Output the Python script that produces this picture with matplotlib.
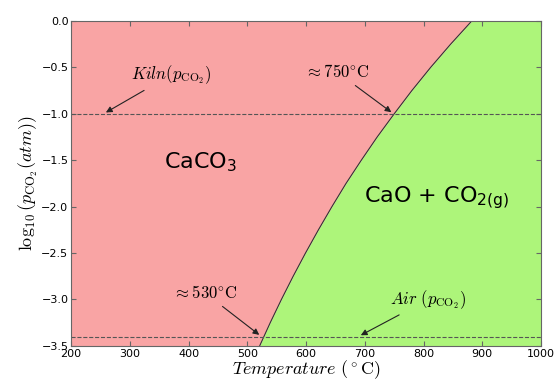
import matplotlib
matplotlib.use('Agg')
import matplotlib.pyplot as plt

plt.rcParams['mathtext.fontset'] = 'cm'

# boundary CaCO3 <-> CaO + CO2
log_p = [-3.5, -3.25, -3.0, -2.75, -2.5, -2.25, -2.0, -1.75, -1.5,
         -1.25, -1.0, -0.75, -0.5, -0.25, 0.0]
temp = [521, 539, 558, 578, 599, 621, 644, 668, 694,
        721, 750, 780, 812, 846, 882]

kiln = -1.0
air = -3.4

xmin, xmax = 200, 1000
ymin, ymax = -3.5, 0.0

fig = plt.figure(figsize=(5.56, 3.83), dpi=100)
ax = fig.add_axes([0.128, 0.097, 0.845, 0.848])

# red region left of the curve, green to the right
ax.fill_betweenx(log_p, xmin, temp, color='#f9a4a4', lw=0)
ax.fill_betweenx(log_p, temp, xmax, color='#adf57a', lw=0)
ax.plot(temp, log_p, color='#333333', lw=0.8)

ax.axhline(kiln, color='#555555', ls='--', lw=0.8)
ax.axhline(air, color='#555555', ls='--', lw=0.8)

arrow = dict(arrowstyle='-|>', color='#222222', lw=0.8, mutation_scale=9)
ax.annotate(r'$Kiln(p_{\mathrm{CO_2}})$', xy=(255, kiln), xytext=(370, -0.58),
            ha='center', va='center', fontsize=12, arrowprops=arrow)
ax.annotate(r'$\approx 750^{\circ}\mathrm{C}$', xy=(749, kiln), xytext=(653, -0.55),
            ha='center', va='center', fontsize=12, arrowprops=arrow)
ax.annotate(r'$\approx 530^{\circ}\mathrm{C}$', xy=(524, air), xytext=(428, -2.93),
            ha='center', va='center', fontsize=12, arrowprops=arrow)
ax.annotate(r'$Air\ (p_{\mathrm{CO_2}})$', xy=(689, air), xytext=(808, -3.0),
            ha='center', va='center', fontsize=12, arrowprops=arrow)

ax.text(420, -1.52, r'CaCO$_\mathrm{3}$', ha='center', va='center', fontsize=16,
        math_fontfamily='dejavusans')
ax.text(822, -1.9, r'CaO + CO$_\mathrm{2(g)}$', ha='center', va='center', fontsize=16,
        math_fontfamily='dejavusans')

ax.set_xlim(xmin, xmax)
ax.set_ylim(ymin, ymax)
ax.set_xticks(range(200, 1001, 100))
ax.set_yticks([-3.5, -3.0, -2.5, -2.0, -1.5, -1.0, -0.5, 0.0])
ax.tick_params(direction='in', top=True, right=True, labelsize=8, pad=2, color='#666666')
for s in ax.spines.values():
    s.set_color('#666666')

ax.set_xlabel(r'$Temperature\ (^\circ\mathrm{C})$', fontsize=13, labelpad=0)
ax.set_ylabel(r'$\log_{10}(p_{\mathrm{CO_2}}(atm))$', fontsize=13, labelpad=1)

fig.savefig('out.png', dpi=100)
